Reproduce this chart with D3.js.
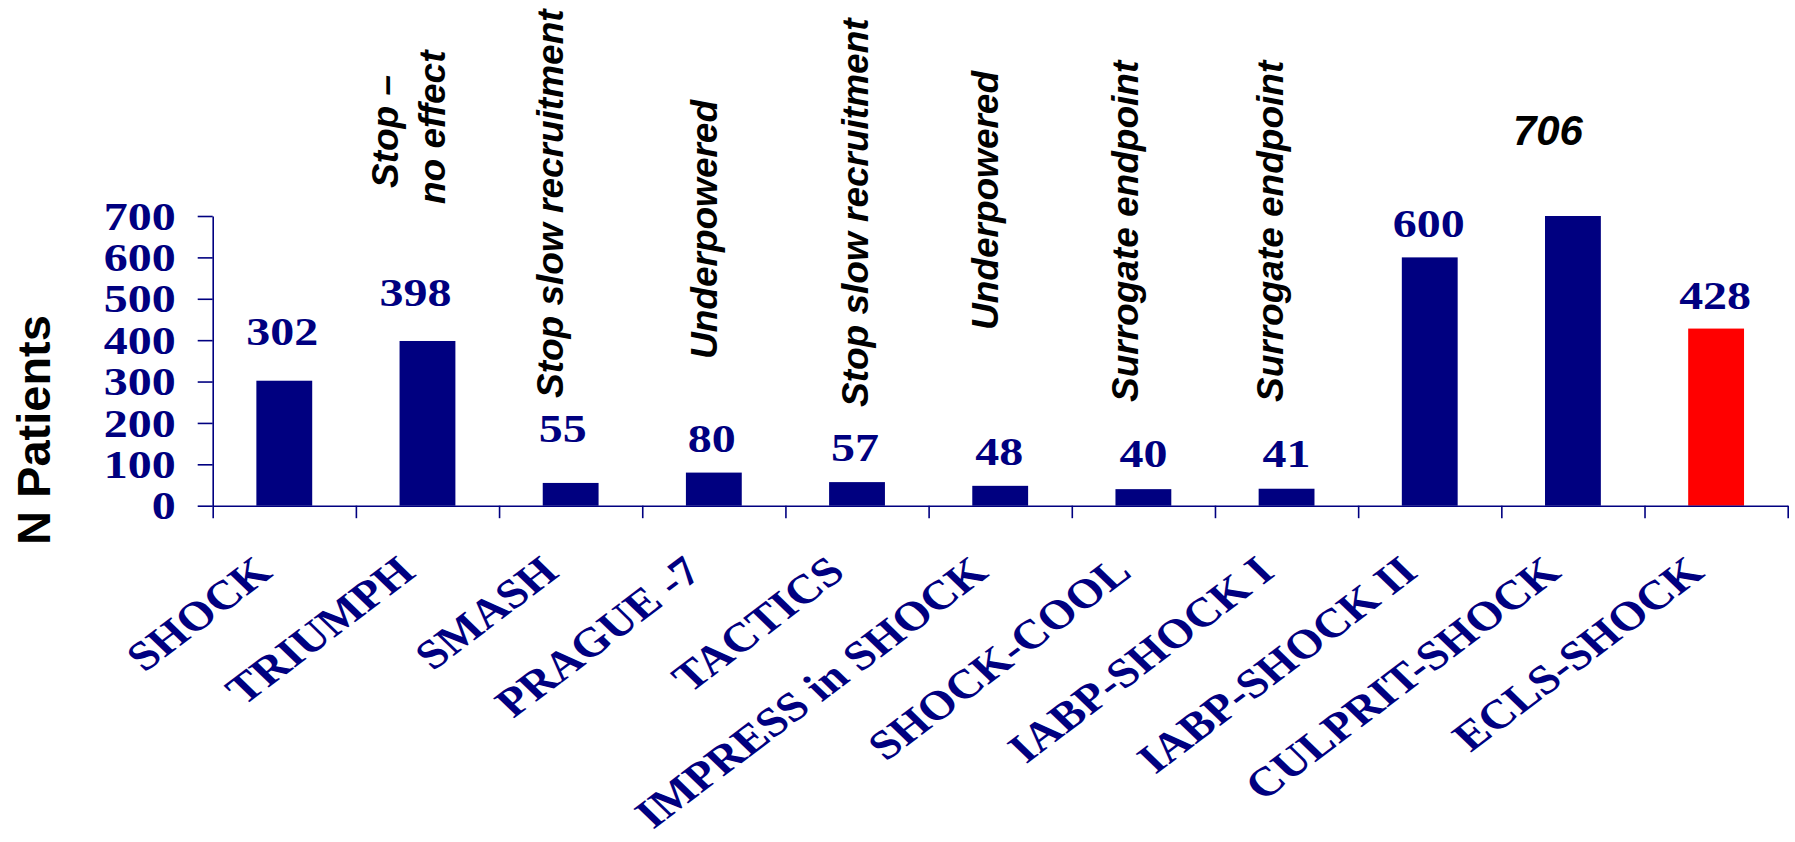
<!DOCTYPE html>
<html>
<head>
<meta charset="utf-8">
<script src="https://cdn.jsdelivr.net/npm/d3@7"></script>
<style>
  html, body { margin: 0; padding: 0; background: #ffffff; }
  svg { display: block; }
</style>
</head>
<body>
<svg id="chart" width="1795" height="842"></svg>
<script>
// ---- data ----
const trials = ["SHOCK", "TRIUMPH", "SMASH", "PRAGUE -7", "TACTICS", "IMPRESS in SHOCK",
                "SHOCK-COOL", "IABP-SHOCK I", "IABP-SHOCK II", "CULPRIT-SHOCK", "ECLS-SHOCK"];
const patients = [302, 398, 55, 80, 57, 48, 40, 41, 600, 706, 428];
const yTicks = [0, 100, 200, 300, 400, 500, 600, 700];
const yTitle = "N Patients";
const highlightTrial = "ECLS-SHOCK";
const italicValueTrial = "CULPRIT-SHOCK";

// remarks written above the small / stopped trials (one entry per text line)
const noteTrials = ["TRIUMPH", "TRIUMPH", "SMASH", "PRAGUE -7", "TACTICS",
                    "IMPRESS in SHOCK", "SHOCK-COOL", "IABP-SHOCK I"];
const noteTexts = ["Stop \u2013", "no effect", "Stop slow recruitment", "Underpowered",
                   "Stop slow recruitment", "Underpowered", "Surrogate endpoint", "Surrogate endpoint"];

// ---- layout ----
const W = 1795, H = 842;
const plotL = 212.7, plotR = 1787.7, plotB = 505.7, plotT = 216;
const navy = "#000080", red = "#ff0000";
const serif = "'Liberation Serif', 'Times New Roman', serif";
const sans = "'Liberation Sans', Arial, sans-serif";
const stretch = 1.17;            // horizontal stretch of the serif lettering
const labelLift = [36, 35, 41, 21, 21, 21, 22, 22, 20, 71, 20];
const labelDx   = [-2, -12, -8, -2, -2, -1, 0, 0, -1, -25, -1];
const noteDx     = [-29.5, 17.5, -7.4, 2.8, 11.3, -1.9, -5.1, -3.3];
const noteBottom = [188, 204, 398, 359, 407, 330, 402, 402];

const svg = d3.select("#chart");
svg.append("rect").attr("width", W).attr("height", H).attr("fill", "#ffffff");

const y = d3.scaleLinear().domain([0, 700]).range([plotB, plotT]).clamp(true);
const xBar = d3.scaleBand().domain(trials).range([plotL, plotR])
  .paddingInner(0.61).paddingOuter(0.305);
const xSlot = d3.scaleBand().domain(trials).range([plotL, plotR]).padding(0);
const xEdge = d3.scaleLinear().domain([0, trials.length]).range([plotL, plotR]);
const center = t => xSlot(t) + xSlot.bandwidth() / 2;

// bars
svg.append("g").selectAll("rect")
  .data(trials)
  .join("rect")
  .attr("x", t => xBar(t))
  .attr("width", xBar.bandwidth())
  .attr("y", (t, i) => y(patients[i]))
  .attr("height", (t, i) => plotB - y(patients[i]))
  .attr("fill", t => t === highlightTrial ? red : navy);

// y axis
const yAxis = svg.append("g")
  .attr("transform", `translate(${plotL},0)`)
  .call(d3.axisLeft(y).tickValues(yTicks).tickSize(15).tickSizeOuter(0).tickFormat(d3.format("d")));
yAxis.selectAll("path, line").attr("stroke", navy).attr("stroke-width", 1.6);
yAxis.selectAll("text")
  .attr("x", null)
  .attr("transform", `translate(-37,0) scale(${stretch},1)`)
  .attr("text-anchor", "end")
  .attr("fill", navy)
  .style("font-family", serif)
  .style("font-weight", "bold")
  .style("font-size", "41px");

// x axis (ticks on category boundaries)
const xAxis = svg.append("g")
  .attr("transform", `translate(0,${plotB})`)
  .call(d3.axisBottom(xEdge).tickValues(d3.range(trials.length + 1))
    .tickSize(12.5).tickSizeOuter(0).tickFormat(""));
xAxis.selectAll("path, line").attr("stroke", navy).attr("stroke-width", 1.6);

// category labels
svg.append("g").selectAll("text")
  .data(trials)
  .join("text")
  .attr("transform", t => `translate(${center(t) - 10},575) scale(${stretch},1) rotate(-41.5)`)
  .attr("text-anchor", "end")
  .attr("fill", navy)
  .style("font-family", serif)
  .style("font-weight", "bold")
  .style("font-size", "41px")
  .text(t => t);

// value labels
svg.append("g").selectAll("text")
  .data(trials)
  .join("text")
  .attr("transform", (t, i) => {
    const s = t === italicValueTrial ? 1 : stretch;
    return `translate(${center(t) + labelDx[i]},${y(patients[i]) - labelLift[i]}) scale(${s},1)`;
  })
  .attr("text-anchor", "middle")
  .attr("fill", t => t === italicValueTrial ? "#000000" : navy)
  .style("font-family", t => t === italicValueTrial ? sans : serif)
  .style("font-style", t => t === italicValueTrial ? "italic" : "normal")
  .style("font-weight", "bold")
  .style("font-size", t => t === italicValueTrial ? "42px" : "41px")
  .text((t, i) => patients[i]);

// vertical remarks
svg.append("g").selectAll("text")
  .data(noteTexts)
  .join("text")
  .attr("transform", (d, i) => `translate(${center(noteTrials[i]) + noteDx[i]},${noteBottom[i]}) rotate(-90)`)
  .attr("text-anchor", "start")
  .attr("fill", "#000000")
  .style("font-family", sans)
  .style("font-style", "italic")
  .style("font-weight", "bold")
  .style("font-size", "37px")
  .text(d => d);

// y axis title
svg.append("text")
  .attr("transform", "translate(50,430) rotate(-90)")
  .attr("text-anchor", "middle")
  .attr("fill", "#000000")
  .style("font-family", sans)
  .style("font-weight", "bold")
  .style("font-size", "47px")
  .text(yTitle);
</script>
</body>
</html>
